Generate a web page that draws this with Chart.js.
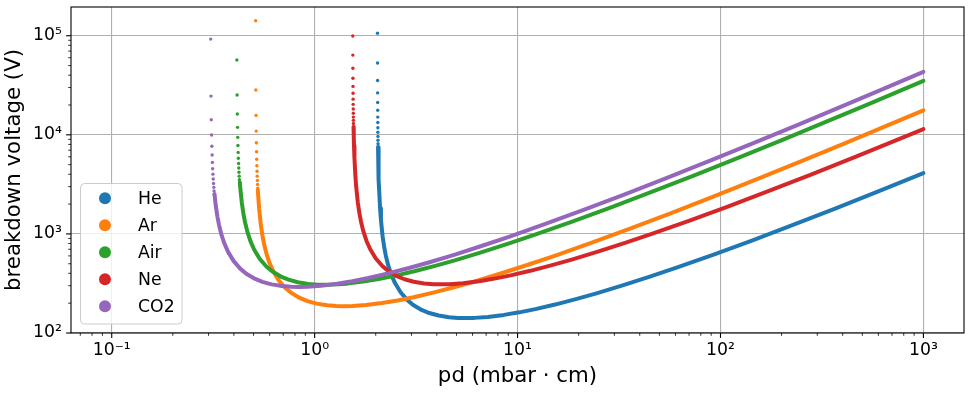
<!DOCTYPE html>
<html>
<head>
<meta charset="utf-8">
<script src="https://cdn.jsdelivr.net/npm/chart.js@4.4.0/dist/chart.umd.min.js"></script>
<style>
body { margin: 0; background: #fff; }
#wrap { width: 970px; height: 395px; position: relative; }
</style>
</head>
<body>
<div id="wrap"><canvas id="chart"></canvas></div>
<script>
// legend order / colours (matplotlib tab10)
const gasNames = ['He', 'Ar', 'Air', 'Ne', 'CO2'];
const gasColors = ['#1f77b4', '#ff7f0e', '#2ca02c', '#d62728', '#9467bd'];

// sparse points right next to each asymptote (pd in mbar cm, V)
const heDotX = [2.041, 2.042, 2.043, 2.044, 2.045, 2.046, 2.047, 2.048, 2.049, 2.050, 2.051, 2.052, 2.053, 2.054];
const heDotV = [106000, 53000, 35300, 26500, 21200, 17700, 15100, 13300, 11800, 10600, 9640, 8830, 8150, 7570];
const arDotX = [0.5122, 0.5132, 0.5142, 0.5152, 0.5162, 0.5172, 0.5182, 0.5192, 0.5202, 0.5212, 0.5222, 0.5232, 0.5242, 0.5252];
const arDotV = [141600, 28300, 15700, 10900, 8330, 6740, 5660, 4880, 4290, 3830, 3460, 3150, 2890, 2670];
const airDotX = [0.4138, 0.4148, 0.4158, 0.4168, 0.4178, 0.4188, 0.4198, 0.4208, 0.4218, 0.4228, 0.4238, 0.4248, 0.4258, 0.4268];
const airDotV = [56900, 25200, 16200, 11900, 9430, 7800, 6650, 5800, 5140, 4620, 4190, 3830, 3530, 3280];
const neDotX = [1.5418, 1.5428, 1.5438, 1.5448, 1.5458, 1.5468, 1.5478, 1.5488, 1.5498, 1.5508, 1.5518, 1.5528, 1.5538, 1.5548];
const neDotV = [99300, 63800, 47000, 37200, 30800, 26300, 22900, 20300, 18200, 16500, 15100, 14000, 13000, 12100];
const co2DotX = [0.3074, 0.3084, 0.3094, 0.3104, 0.3114, 0.3124, 0.3134, 0.3144, 0.3154, 0.3164, 0.3174, 0.3184, 0.3194, 0.3204];
const co2DotV = [92500, 24600, 14200, 9960, 7680, 6250, 5270, 4550, 4010, 3580, 3230, 2950, 2710, 2510];

// dense part of each curve
const heX = [2.054, 2.060, 2.071, 2.081, 2.101, 2.122, 2.162, 2.203, 2.244, 2.305, 2.387, 2.489, 2.652, 2.856, 3.06, 3.366, 3.672, 4.08, 4.59, 5.10, 5.545, 6.12, 7.14, 8.568, 10.2, 12.24, 15.3, 19.38, 24.48, 32.64, 44.88, 61.2, 91.8, 142.8, 224.4, 367.2, 612, 1000];
const heV = [7510, 5280, 3546, 2680, 1813, 1380, 946, 730, 600, 481, 388, 319, 258, 216, 192, 171, 159, 150, 144.4, 141.9, 141.4, 142.1, 145.3, 152.3, 161.6, 174.2, 193.6, 219.5, 251.2, 300.2, 370.2, 458.8, 614.9, 857.1, 1217, 1803, 2736, 4116];
const arX = [0.5253, 0.5274, 0.5325, 0.5427, 0.553, 0.5632, 0.5786, 0.599, 0.6246, 0.6656, 0.7168, 0.768, 0.8448, 0.9216, 1.024, 1.152, 1.28, 1.392, 1.536, 1.792, 2.150, 2.56, 3.072, 3.84, 4.864, 6.144, 8.192, 11.26, 15.36, 23.04, 35.84, 56.32, 92.16, 153.6, 256, 409.6, 665.6, 1000];
const arV = [2742, 2391, 1819, 1248, 962, 792, 634, 511, 421, 340, 285, 254, 226, 210, 198, 190.4, 187.1, 186.5, 187.3, 191.7, 200.8, 213.1, 229.7, 255.3, 289.5, 331.3, 395.9, 488.2, 605.1, 810.9, 1130, 1605, 2378, 3608, 5520, 8210, 12438, 17685];
const airX = [0.4279, 0.4295, 0.4378, 0.446, 0.4543, 0.4667, 0.4832, 0.5039, 0.5369, 0.5782, 0.6195, 0.6815, 0.7434, 0.826, 0.9293, 1.0325, 1.1226, 1.239, 1.4455, 1.7346, 2.065, 2.478, 3.0975, 3.9235, 4.956, 6.608, 9.086, 12.39, 18.585, 28.91, 45.43, 74.34, 123.9, 206.5, 330.4, 536.9, 1000];
const airV = [3301, 2989, 2050, 1581, 1301, 1042, 839.8, 691.4, 558.4, 468.9, 416.9, 371.3, 345.1, 325.1, 312.7, 307.4, 306.3, 307.8, 314.9, 329.9, 350.2, 377.4, 419.5, 475.6, 544.2, 650.4, 802.1, 994, 1332, 1857, 2637, 3906, 5928, 9068, 13488, 20434, 35036];
const neX = [1.5549, 1.5585, 1.5631, 1.5708, 1.5862, 1.6016, 1.6324, 1.6632, 1.694, 1.7402, 1.8018, 1.8788, 2.002, 2.156, 2.31, 2.541, 2.772, 3.08, 3.465, 3.85, 4.186, 4.62, 5.39, 6.468, 7.7, 9.24, 11.55, 14.63, 18.48, 24.64, 33.88, 46.2, 69.3, 107.8, 169.4, 277.2, 462, 1000];
const neV = [11920, 9668, 7769, 5870, 3972, 3022, 2073, 1599, 1315, 1054, 849.2, 699.1, 564.7, 474.2, 421.5, 375.5, 348.9, 328.8, 316.2, 310.9, 309.7, 311.2, 318.4, 333.6, 354.1, 381.7, 424.2, 480.9, 550.3, 657.7, 811, 1005, 1347, 1878, 2667, 3950, 5994, 11427];
const co2X = [0.321, 0.3254, 0.3316, 0.3377, 0.3469, 0.3592, 0.3745, 0.3991, 0.4298, 0.4605, 0.5066, 0.5526, 0.614, 0.6908, 0.7675, 0.8344, 0.921, 1.0745, 1.2894, 1.535, 1.842, 2.3025, 2.9165, 3.684, 4.912, 6.754, 9.21, 13.815, 21.49, 33.77, 55.26, 92.1, 153.5, 245.6, 399.1, 614, 1000];
const co2V = [2521, 1952, 1505, 1238, 992.1, 799.6, 658.3, 531.7, 446.5, 396.9, 353.5, 328.6, 309.6, 297.8, 292.7, 291.6, 293, 299.8, 314.1, 333.4, 359.3, 399.4, 452.8, 518.1, 619.2, 763.6, 946.4, 1268, 1768, 2511, 3719, 5644, 8633, 12842, 19455, 28234, 43221];

// axis ticks
const xTickValues = [0.1, 1, 10, 100, 1000];
const xTickLabels = ['10\u207b\u00b9', '10\u2070', '10\u00b9', '10\u00b2', '10\u00b3'];
const yTickValues = [100, 1000, 10000, 100000];
const yTickLabels = ['10\u00b2', '10\u00b3', '10\u2074', '10\u2075'];

const FONT = 'DejaVu Sans';

function zip(xs, ys) {
	let out = [];
	for(let i = 0; i < Math.min(xs.length, ys.length); i++) out.push({x: xs[i], y: ys[i]});
	return out;
}

const dotSets = [[heDotX, heDotV], [arDotX, arDotV], [airDotX, airDotV], [neDotX, neDotV], [co2DotX, co2DotV]];
const curveSets = [[heX, heV], [arX, arV], [airX, airV], [neX, neV], [co2X, co2V]];

let datasets = [];
gasNames.forEach((name, i) => {
	// higher order is drawn first -> He at the bottom, CO2 on top
	datasets.push({
		label: name,
		data: zip(curveSets[i][0], curveSets[i][1]),
		showLine: true,
		borderColor: gasColors[i],
		backgroundColor: gasColors[i],
		borderWidth: 4,
		pointRadius: 0,
		borderJoinStyle: 'round',
		borderCapStyle: 'round',
		order: 20 - 2 * i
	});
	datasets.push({
		label: name + ' dots',
		data: zip(dotSets[i][0], dotSets[i][1]),
		showLine: false,
		backgroundColor: gasColors[i],
		borderWidth: 0,
		pointRadius: 1.7,
		order: 19 - 2 * i
	});
});

//draws spines, tick marks and the legend box
const axesDecor = {
	id: 'axesDecor',
	beforeDraw(chart) {
		const ctx = chart.ctx;
		ctx.save();
		ctx.fillStyle = '#fff';
		ctx.fillRect(0, 0, chart.width, chart.height);
		ctx.restore();
	},
	afterDraw(chart) {
		const {ctx, chartArea: {left, top, right, bottom}, scales: {x, y}} = chart;
		ctx.save();
		ctx.strokeStyle = '#000';
		// minor + major ticks
		for(let e = -2; e < 4; e++) {
			for(let m = 1; m < 10; m++) {
				const v = m * Math.pow(10, e);
				if(v < x.min || v > x.max) continue;
				const p = x.getPixelForValue(v);
				ctx.lineWidth = m == 1 ? 1.1 : 0.8;
				ctx.beginPath();
				ctx.moveTo(p, bottom);
				ctx.lineTo(p, bottom + (m == 1 ? 4.9 : 2.8));
				ctx.stroke();
			}
		}
		for(let e = 1; e < 6; e++) {
			for(let m = 1; m < 10; m++) {
				const v = m * Math.pow(10, e);
				if(v < y.min || v > y.max) continue;
				const p = y.getPixelForValue(v);
				ctx.lineWidth = m == 1 ? 1.1 : 0.8;
				ctx.beginPath();
				ctx.moveTo(left, p);
				ctx.lineTo(left - (m == 1 ? 4.9 : 2.8), p);
				ctx.stroke();
			}
		}
		ctx.lineWidth = 1.1;
		ctx.strokeRect(left, top, right - left, bottom - top);

		// legend
		const bx = 80.5, by = 183.5, bw = 101.5, bh = 140.5;
		ctx.beginPath();
		if(ctx.roundRect) ctx.roundRect(bx, by, bw, bh, 4); else ctx.rect(bx, by, bw, bh);
		ctx.fillStyle = 'rgba(255,255,255,0.8)';
		ctx.fill();
		ctx.strokeStyle = '#cccccc';
		ctx.lineWidth = 1;
		ctx.stroke();
		ctx.font = '17.3px "' + FONT + '"';
		ctx.textBaseline = 'middle';
		ctx.textAlign = 'left';
		gasNames.forEach((name, i) => {
			const cy = 198.3 + 27 * i;
			ctx.beginPath();
			ctx.arc(105, cy, 6, 0, Math.PI * 2);
			ctx.fillStyle = gasColors[i];
			ctx.fill();
			ctx.fillStyle = '#000';
			ctx.fillText(name, 138, cy + 1);
		});
		ctx.restore();
	}
};

const config = {
	type: 'scatter',
	data: { datasets: datasets },
	options: {
		responsive: true,
		maintainAspectRatio: false,
		animation: false,
		events: [],
		layout: { padding: { left: 0, right: 6, top: 7, bottom: 0 } },
		plugins: {
			legend: { display: false },
			tooltip: { enabled: false }
		},
		scales: {
			x: {
				type: 'logarithmic',
				min: 0.063,
				max: 1585,
				afterBuildTicks: s => { s.ticks = xTickValues.map(v => ({value: v})); },
				afterFit: s => { s.height = 62; s.paddingLeft = 0; s.paddingRight = 0; },
				grid: { color: '#b0b0b0', lineWidth: 1.1, drawTicks: false },
				border: { display: false },
				ticks: {
					autoSkip: false,
					maxRotation: 0,
					padding: 7,
					color: '#000',
					font: { family: FONT, size: 17.3 },
					callback: function(value) { return xTickLabels[xTickValues.indexOf(value)]; }
				},
				title: {
					display: true,
					text: 'pd (mbar \u00b7 cm)',
					color: '#000',
					font: { family: FONT, size: 21.3 },
					padding: { top: 0, bottom: 6 }
				}
			},
			y: {
				type: 'logarithmic',
				min: 100,
				max: 195000,
				afterBuildTicks: s => { s.ticks = yTickValues.map(v => ({value: v})); },
				afterFit: s => { s.width = 71; s.paddingTop = 0; s.paddingBottom = 0; },
				grid: { color: '#b0b0b0', lineWidth: 1.1, drawTicks: false },
				border: { display: false },
				ticks: {
					autoSkip: false,
					padding: 9,
					color: '#000',
					font: { family: FONT, size: 17.3 },
					callback: function(value) { return yTickLabels[yTickValues.indexOf(value)]; }
				},
				title: {
					display: true,
					text: 'breakdown voltage (V)',
					color: '#000',
					font: { family: FONT, size: 21.3 },
					padding: { top: 2, bottom: 0 }
				}
			}
		}
	},
	plugins: [axesDecor]
};

new Chart(document.getElementById('chart'), config);
</script>
</body>
</html>
